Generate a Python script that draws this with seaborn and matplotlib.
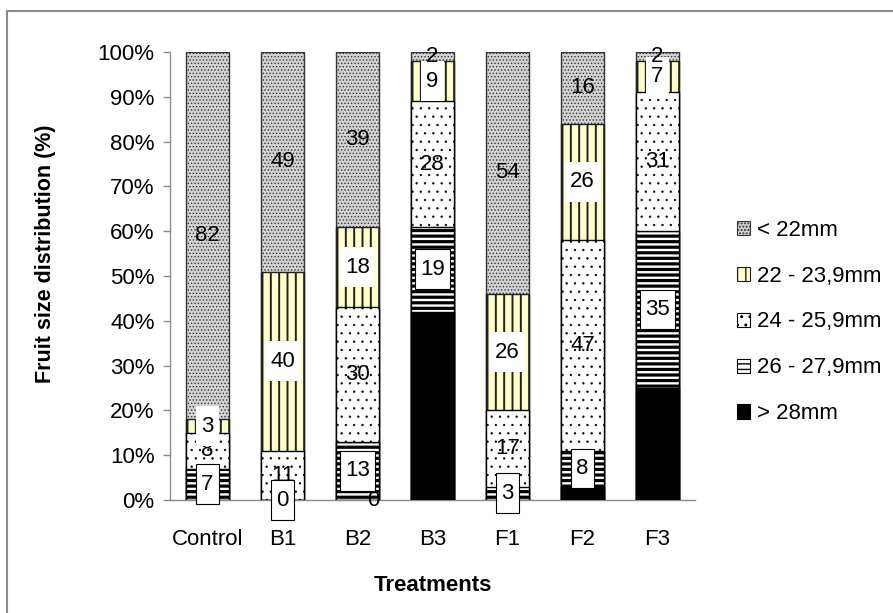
import numpy as np
import pandas as pd
import seaborn as sns
import matplotlib
matplotlib.use("Agg")
import matplotlib.pyplot as plt
import matplotlib.patches as mpatches
from matplotlib.path import Path
from matplotlib.ticker import PercentFormatter

# ---------------- data ----------------
treatments = ["Control", "B1", "B2", "B3", "F1", "F2", "F3"]
# series listed bottom -> top of stack
gt28 = [0, 0, 0, 42, 0, 3, 25]          # > 28mm
s26_279 = [7, 0, 13, 19, 3, 8, 35]      # 26 - 27,9mm
s24_259 = [8, 11, 30, 28, 17, 47, 31]   # 24 - 25,9mm
s22_239 = [3, 40, 18, 9, 26, 26, 7]     # 22 - 23,9mm
lt22 = [82, 49, 39, 2, 54, 16, 2]       # < 22mm
series_names = ["> 28mm", "26 - 27,9mm", "24 - 25,9mm", "22 - 23,9mm", "< 22mm"]
series_vals = [gt28, s26_279, s24_259, s22_239, lt22]
legend_order = ["< 22mm", "22 - 23,9mm", "24 - 25,9mm", "26 - 27,9mm", "> 28mm"]
y_label = "Fruit size distribution (%)"
x_label = "Treatments"

# ---------------- styles ----------------
styles = {
    "> 28mm":      dict(face="#000000", edge="#000000", hatch=None,    hlw=1.0),
    "26 - 27,9mm": dict(face="#ffffff", edge="#000000", hatch="---",   hlw=2.3),
    "24 - 25,9mm": dict(face="#ffffff", edge="#000000", hatch="..",    hlw=0.45),
    "22 - 23,9mm": dict(face="#ffffcc", edge="#202020", hatch="||",    hlw=1.4),
    "< 22mm":      dict(face="#d2d2d2", edge="#353535", hatch=".....", hlw=0.6),
}

FONT = "Liberation Sans"
plt.rcParams["font.family"] = [FONT, "DejaVu Sans"]
plt.rcParams["hatch.linewidth"] = 1.0

W, H = 893, 613
fig = plt.figure(figsize=(W / 100, H / 100), dpi=100)
ax = fig.add_axes([170 / W, 1 - 500 / H, (695 - 170) / W, (500 - 52) / H])

vals = np.array(series_vals, dtype=float) / 100.0
cum = np.cumsum(vals, axis=0)
bottoms = cum - vals

# draw from top cumulative (largest) to bottom so lower layers overlay
for k in range(len(series_names) - 1, -1, -1):
    name = series_names[k]
    st = styles[name]
    df = pd.DataFrame({"Treatment": treatments, "cum": cum[k]})
    before = len(ax.patches)
    sns.barplot(data=df, x="Treatment", y="cum", ax=ax, color=st["face"],
                saturation=1, width=0.57, errorbar=None,
                edgecolor=st["edge"], linewidth=1.0,
                hatch=st["hatch"], zorder=2 + (5 - k) * 0.01)
    for p in ax.patches[before:]:
        if hasattr(p, "set_hatch_linewidth"):
            p.set_hatch_linewidth(st["hlw"])


def tallbox(x0, y0, width, height, mutation_size):
    padx = 0.22 * mutation_size
    pady = 0.42 * mutation_size
    xa, xb = x0 - padx, x0 + width + padx
    ya, yb = y0 - pady, y0 + height + pady
    return Path([(xa, ya), (xb, ya), (xb, yb), (xa, yb), (xa, ya)],
                [Path.MOVETO, Path.LINETO, Path.LINETO, Path.LINETO, Path.CLOSEPOLY])


# data labels
for k, name in enumerate(series_names):
    for i in range(len(treatments)):
        v = series_vals[k][i]
        mid = bottoms[k][i] + vals[k][i] / 2
        bbox = None
        dx = 0
        if name == "> 28mm" and v == 0:
            # zero label hidden behind the small box of the next series
            if series_vals[1][i] < 10:
                continue
            dx = 16
        if name == "22 - 23,9mm":
            bbox = dict(boxstyle=tallbox, facecolor="white", edgecolor="none")
        elif name == "26 - 27,9mm":
            bbox = dict(boxstyle=tallbox, facecolor="white", edgecolor="black",
                        linewidth=0.8)
        ax.annotate(str(v), (i, mid), xytext=(dx, 0), textcoords="offset pixels",
                    ha="center", va="center", fontsize=16, color="black",
                    bbox=bbox, zorder=5 + k * 0.1, annotation_clip=False)

ax.set_xlim(-0.5, 6.5)
ax.set_ylim(0, 1)
ax.set_yticks(np.arange(0, 1.01, 0.1))
ax.yaxis.set_major_formatter(PercentFormatter(1.0, decimals=0))
ax.set_facecolor("white")
for s in ["top", "right"]:
    ax.spines[s].set_visible(False)
for s in ["left", "bottom"]:
    ax.spines[s].set_color("#8c8c8c")
    ax.spines[s].set_linewidth(1.0)
    ax.spines[s].set_zorder(1)
ax.tick_params(axis="y", length=5, width=1, color="#8c8c8c", pad=6,
               labelsize=16, labelcolor="black")
ax.tick_params(axis="x", length=0, pad=21, labelsize=16, labelcolor="black")

ax.set_xlabel(x_label, fontsize=16, fontweight="bold")
ax.set_ylabel(y_label, fontsize=15.5, fontweight="bold")
ax.xaxis.set_label_coords(0.5, -0.167)
ax.yaxis.set_label_coords(-0.218, 0.549)

# legend
handles = []
for name in legend_order:
    st = styles[name]
    h = mpatches.Patch(facecolor=st["face"], edgecolor=st["edge"],
                       hatch=st["hatch"], linewidth=0.8, label=name)
    if hasattr(h, "set_hatch_linewidth"):
        h.set_hatch_linewidth(min(st["hlw"], 1.2))
    handles.append(h)
leg = fig.legend(handles=handles, loc="center left",
                 bbox_to_anchor=(737 / W, 1 - 322 / H),
                 bbox_transform=fig.transFigure, frameon=False,
                 fontsize=16, handlelength=0.6, handleheight=0.6,
                 handletextpad=0.3, labelspacing=1.12, borderpad=0,
                 borderaxespad=0)

# outer chart border
fig.patches.append(mpatches.Rectangle((7 / W, -0.05), 1.1, 1 - 11 / H + 0.05,
                                      transform=fig.transFigure, fill=False,
                                      edgecolor="#8c8c8c", linewidth=1.5))

fig.savefig("out.png", dpi=100, facecolor="white")
